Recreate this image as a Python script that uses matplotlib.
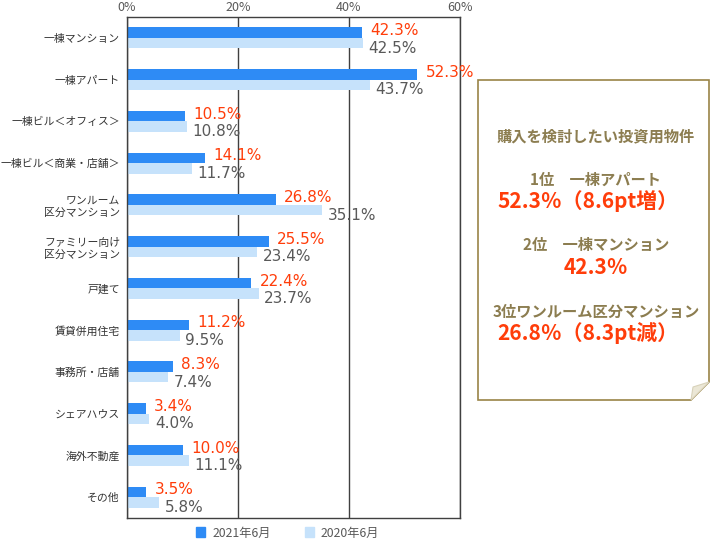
import matplotlib
matplotlib.use("Agg")
import matplotlib.pyplot as plt
from matplotlib.patches import Rectangle, Polygon
import numpy as np

plt.rcParams['font.family'] = ['Noto Sans CJK JP', 'DejaVu Sans']

# данные
categories = ["一棟マンション", "一棟アパート", "一棟ビル＜オフィス＞", "一棟ビル＜商業・店舗＞",
              "ワンルーム\n区分マンション", "ファミリー向け\n区分マンション", "戸建て", "賃貸併用住宅",
              "事務所・店舗", "シェアハウス", "海外不動産", "その他"]
vals_2021 = [42.3, 52.3, 10.5, 14.1, 26.8, 25.5, 22.4, 11.2, 8.3, 3.4, 10.0, 3.5]
vals_2020 = [42.5, 43.7, 10.8, 11.7, 35.1, 23.4, 23.7, 9.5, 7.4, 4.0, 11.1, 5.8]
series_names = ["2021年6月", "2020年6月"]
xticks = [0, 20, 40, 60]

blue = "#2e8bf5"
light = "#c6e2fb"
red = "#ff3d0a"
gray = "#595959"
olive = "#9a8447"
olive_txt = "#8c7d50"

W, H = 724, 550
fig = plt.figure(figsize=(W / 100, H / 100), dpi=100)

def px(x, y):
    return x / W, 1 - y / H

ax = fig.add_axes([127 / W, 1 - 518 / H, (460 - 127) / W, (518 - 17) / H])

n = len(categories)
y = np.arange(n)
h = 0.25
ax.barh(y - h / 2, vals_2021, height=h, color=blue)
ax.barh(y + h / 2, vals_2020, height=h, color=light)

for i in range(n):
    ax.text(vals_2021[i] + 1.5, y[i] - h / 2 - 0.05, f"{vals_2021[i]:.1f}%", color=red,
            fontsize=11, va="center", ha="left", family="DejaVu Sans")
    ax.text(vals_2020[i] + 1.0, y[i] + h / 2 + 0.12, f"{vals_2020[i]:.1f}%", color=gray,
            fontsize=11, va="center", ha="left", family="DejaVu Sans")

ax.set_xlim(0, 60)
ax.set_ylim(n - 0.5, -0.5)
ax.set_yticks(y)
ax.set_yticklabels(categories, fontsize=7.8, color="#333333", linespacing=1.3)
ax.set_xticks(xticks)
ax.set_xticklabels([f"{t}%" for t in xticks], fontsize=9, color=gray)
ax.xaxis.tick_top()
ax.tick_params(length=0, pad=2)
ax.tick_params(axis="y", pad=5)
ax.xaxis.grid(True, color="#404040", linewidth=1)
ax.set_axisbelow(True)
for s in ax.spines.values():
    s.set_color("#404040")
    s.set_linewidth(1)

# легенда
fig.patches.append(Rectangle(px(196, 537), 9 / W, 10 / H, color=blue, transform=fig.transFigure))
fig.text(*px(213, 533), series_names[0], fontsize=8.8, color=gray, va="center")
fig.patches.append(Rectangle(px(305, 537), 9 / W, 10 / H, color=light, transform=fig.transFigure))
fig.text(*px(321, 533), series_names[1], fontsize=8.8, color=gray, va="center")

# рамка справа с загнутым углом
x0, y0, x1, y1 = 478, 80, 709, 400
fold = 18
border = [px(x0, y0), px(x1, y0), px(x1, y1 - fold), px(x1 - fold, y1), px(x0, y1)]
fig.patches.append(Polygon(border, closed=True, fill=False, edgecolor=olive, linewidth=1.2,
                           transform=fig.transFigure))
fig.patches.append(Polygon([px(x1, y1 - fold), px(x1 - fold, y1), px(x1 - fold + 2, y1 - fold + 5)],
                           closed=True, facecolor="#ebe7d6", edgecolor="#d8d2ba", linewidth=0.8,
                           transform=fig.transFigure))

cx = 596
fig.text(*px(cx, 136), "購入を検討したい投資用物件", fontsize=11, color=olive_txt,
         ha="center", va="center", fontweight="bold")
fig.text(*px(cx, 180), "1位　一棟アパート", fontsize=11, color=olive_txt,
         ha="center", va="center", fontweight="bold")
fig.text(*px(cx - 8, 201), "52.3％（8.6pt増）", fontsize=15, color=red,
         ha="center", va="center", fontweight="bold")
fig.text(*px(cx, 245), "2位　一棟マンション", fontsize=11, color=olive_txt,
         ha="center", va="center", fontweight="bold")
fig.text(*px(cx, 267), "42.3％", fontsize=15, color=red,
         ha="center", va="center", fontweight="bold")
fig.text(*px(cx, 312), "3位ワンルーム区分マンション", fontsize=11, color=olive_txt,
         ha="center", va="center", fontweight="bold")
fig.text(*px(cx - 8, 333), "26.8％（8.3pt減）", fontsize=15, color=red,
         ha="center", va="center", fontweight="bold")

fig.savefig("out.png", dpi=100, facecolor="white")
